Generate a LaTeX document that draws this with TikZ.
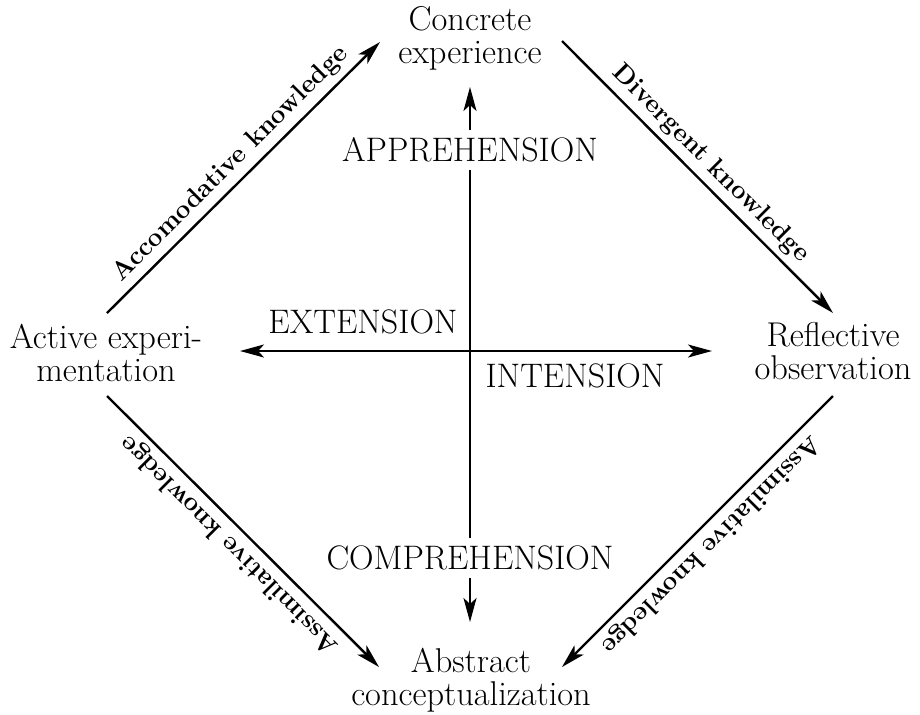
\documentclass[tikz,border=0pt]{standalone}
\usetikzlibrary{arrows.meta,calc}
\begin{document}
\begin{tikzpicture}[x=0.5pt,y=-0.5pt,
  main/.style={align=center,inner sep=0pt,font=\fontsize{17.2}{16.5}\selectfont},
  axislbl/.style={font=\fontsize{17}{16.5}\selectfont,fill=white,inner xsep=2pt,inner ysep=4pt},
  tip/.tip={Stealth[length=12pt,width=6.5pt,inset=3pt]},
  conn/.style={line width=1.2pt,-tip},
  biconn/.style={line width=1.2pt,tip-tip},
  lbl/.style={font=\fontsize{13}{14}\selectfont\bfseries,anchor=base,inner sep=0pt}]
\useasboundingbox (0,0) rectangle (920,714);
% main nodes
\node[main] (CE) at (470,38) {Concrete\\experience};
\node[main] (AE) at (106,353) {Active experi-\\mentation};
\node[main] (RO) at (833,351) {Reflective\\observation};
\node[main] (AC) at (471,680) {Abstract\\conceptualization};
% connector ends
\coordinate (tl1) at ($(AE)+(1,-40)$);
\coordinate (tl2) at ($(CE)+(-90,4)$);
\coordinate (tr1) at ($(CE)+(92,3)$);
\coordinate (tr2) at ($(RO)+(0,-38)$);
\coordinate (bl1) at ($(AE)+(1,43)$);
\coordinate (bl2) at ($(AC)+(-92,-13)$);
\coordinate (br1) at ($(RO)+(0,45)$);
\coordinate (br2) at ($(AC)+(91,-13)$);
\coordinate (vb) at ($(AC)+(-1,-58)$);
\coordinate (vt) at ($(CE)+(0,49)$);
\coordinate (hl) at ($(AE)+(134,-2)$);
\coordinate (hr) at ($(RO)+(-121,0)$);
% axes
\draw[biconn] (vb) -- (vt);
\draw[biconn] (hl) -- (hr);
\node[axislbl] (app) at (470,150) {APPREHENSION};
\node[axislbl] (comp) at (470,558) {COMPREHENSION};
\node[axislbl] (ext) at (363,322) {EXTENSION};
\node[axislbl] (int) at (575,376) {INTENSION};
% diagonals
\draw[conn] (tl1) -- (tl2);
\draw[conn] (tr1) -- (tr2);
\draw[conn] (bl1) -- (bl2);
\draw[conn] (br1) -- (br2);
\node[lbl,rotate=45] (l1) at ($(tl1)!0.5!(tl2)!6pt!90:(tl2)$) {Accomodative knowledge};
\node[lbl,rotate=-45] (l2) at ($(tr1)!0.5!(tr2)!6pt!90:(tr2)$) {Divergent knowledge};
\node[lbl,rotate=135] (l3) at ($(bl1)!0.5!(bl2)!6pt!-90:(bl2)$) {Assimilative knowledge};
\node[lbl,rotate=-135] (l4) at ($(br1)!0.5!(br2)!6pt!90:(br2)$) {Assimilative knowledge};
\end{tikzpicture}
\end{document}
